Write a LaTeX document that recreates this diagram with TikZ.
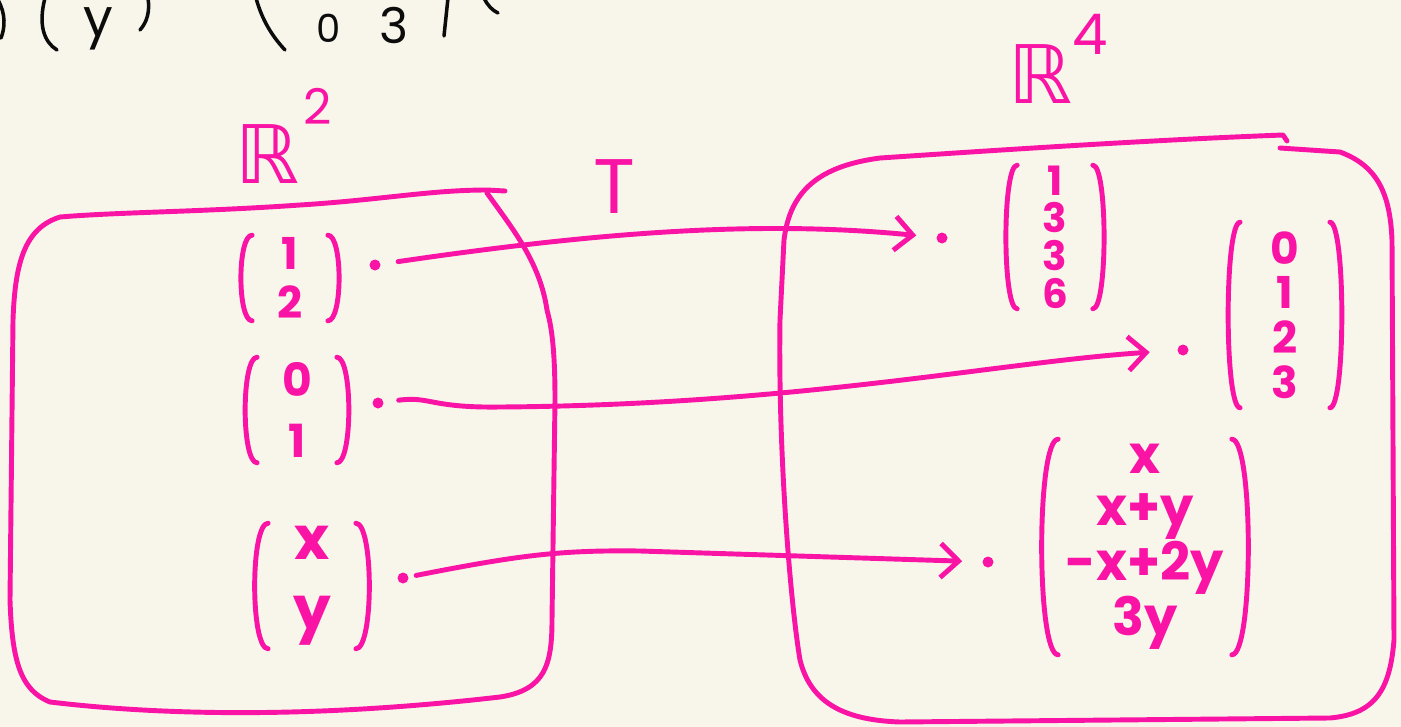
\documentclass[tikz,border=0pt]{standalone}
\usepackage{fontspec}
\setmainfont{Poppins}
\newfontfamily\dejavu{DejaVu Sans}
\usetikzlibrary{arrows.meta}
\definecolor{ink}{RGB}{250,20,165}
\definecolor{paper}{RGB}{248,246,234}
\definecolor{blk}{RGB}{12,12,12}
\newcommand\vparens[2]{%
  \draw[pen] ([xshift=#2]#1.north west) .. controls ([xshift=-#2]#1.north west) and ([xshift=-#2]#1.south west) .. ([xshift=#2]#1.south west);
  \draw[pen] ([xshift=-#2]#1.north east) .. controls ([xshift=#2]#1.north east) and ([xshift=#2]#1.south east) .. ([xshift=-#2]#1.south east);}
\begin{document}
\begin{tikzpicture}[x=0.02cm,y=-0.02cm,
  pen/.style={draw=ink, line width=2.8pt, line cap=round, line join=round},
  bpen/.style={draw=blk, line width=2pt, line cap=round, line join=round},
  arr/.style={pen, -{Straight Barb[length=3.6mm,width=6.8mm,line width=2.8pt]}},
  vec/.style={text=ink, align=center, inner sep=0pt},
  lbl/.style={text=ink, inner sep=0pt},
  btxt/.style={text=blk, inner sep=0pt},
  dotn/.style={circle, fill=ink, inner sep=0pt, minimum size=0.22cm}]
\fill[paper] (0,0) rectangle (1401,727);
\useasboundingbox (0,0) rectangle (1401,727);

% partial black text at the top
\draw[bpen] (-2,0) .. controls (6,14) and (5,28) .. (1,38);
\draw[bpen] (45,-2) .. controls (38,25) and (44,42) .. (57,50);
\node[btxt, font=\fontsize{30}{30}\selectfont] (by) at (98,29) {y};
\draw[bpen] (148,-2) .. controls (150,12) and (147,22) .. (140,30);
\draw[bpen] (256,-2) .. controls (262,20) and (272,36) .. (285,50);
\node[btxt, font=\fontsize{22}{22}\selectfont] (b0) at (329,28) {0};
\node[btxt, font=\fontsize{28}{28}\selectfont] (b3) at (394,25) {3};
\draw[bpen] (448,-2) -- (444,36);
\draw[bpen] (484,-2) .. controls (488,6) and (492,10) .. (498,13);

% boxes
\draw[pen] (505,191) -- (487,190) .. controls (430,190) and (380,200) .. (300,205)
  .. controls (200,212) and (120,212) .. (60,217) .. controls (25,228) and (15,262) .. (13,320)
  -- (10,600) .. controls (12,660) and (20,690) .. (50,702)
  .. controls (150,714) and (300,720) .. (500,697) .. controls (545,690) and (552,665) .. (552,620)
  -- (555,400) .. controls (555,345) and (551,325) .. (547,310)
  .. controls (540,262) and (512,228) .. (487,193);
\draw[pen] (1287,141) -- (1283,135) .. controls (1150,140) and (1000,150) .. (880,158)
  .. controls (820,166) and (790,190) .. (784,240) -- (780,320)
  .. controls (778,450) and (790,600) .. (800,660) .. controls (810,700) and (840,720) .. (900,722)
  -- (1330,718) .. controls (1375,714) and (1390,690) .. (1394,640)
  -- (1392,240) .. controls (1390,190) and (1375,165) .. (1340,152) -- (1280,148);

% labels
\node[lbl, font=\dejavu\fontsize{46}{46}\selectfont] (r2) at (268,154) {ℝ};
\node[lbl, font=\fontsize{28}{28}\selectfont] (r2e) at (318,106) {2};
\node[lbl, font=\dejavu\fontsize{46}{46}\selectfont] (r4) at (1040,74) {ℝ};
\node[lbl, font=\fontsize{32}{32}\selectfont] (r4e) at (1090,34) {4};
\node[lbl, font=\fontsize{44}{44}\selectfont] (t) at (614,187) {T};

% vectors in R^2
\node[vec, minimum width=1.8cm, minimum height=1.7cm, font=\bfseries\fontsize{25}{28}\selectfont] (v12) at (290,278) {1\\2};
\node[vec, minimum width=1.9cm, minimum height=2.1cm, font=\bfseries\fontsize{26}{35}\selectfont] (v01) at (297,410) {0\\1};
\node[vec, minimum width=2.1cm, minimum height=2.5cm, font=\bfseries\fontsize{34}{40}\selectfont] (vxy) at (312,586) {x\\y};
\vparens{v12}{1.5mm}
\vparens{v01}{1.6mm}
\vparens{vxy}{1.8mm}

% vectors in R^4
\node[vec, minimum width=1.8cm, minimum height=2.7cm, font=\bfseries\fontsize{23}{21.5}\selectfont] (v1336) at (1055,237) {1\\3\\3\\6};
\node[vec, minimum width=2.1cm, minimum height=3.7cm, font=\bfseries\fontsize{25}{25.5}\selectfont] (v0123) at (1285,315) {0\\1\\2\\3};
\node[vec, minimum width=3.9cm, minimum height=4.3cm, font=\bfseries\fontsize{30}{29.5}\selectfont] (vbig) at (1145,547) {x\\x+y\\-x+2y\\3y};
\vparens{v1336}{1.5mm}
\vparens{v0123}{1.6mm}
\vparens{vbig}{2.2mm}

% points
\node[dotn] (d1) at (375,265) {};
\node[dotn] (d2) at (378,403) {};
\node[dotn] (d3) at (403,578) {};
\node[dotn] (e1) at (942,238) {};
\node[dotn] (e2) at (1183,350) {};
\node[dotn] (e3) at (988,562) {};

% mapping arrows
\draw[arr, shorten <=0.35cm, shorten >=0.4cm] (d1) .. controls (600,232) and (760,220) .. (e1);
\draw[arr, shorten <=0.3cm, shorten >=0.55cm] (d2) .. controls (430,396) and (430,408) .. (500,407)
  .. controls (800,405) and (1000,362) .. (e2);
\draw[arr, shorten <=0.15cm, shorten >=0.4cm] (d3) .. controls (520,555) and (560,550) .. (640,551) -- (e3);
\end{tikzpicture}
\end{document}
